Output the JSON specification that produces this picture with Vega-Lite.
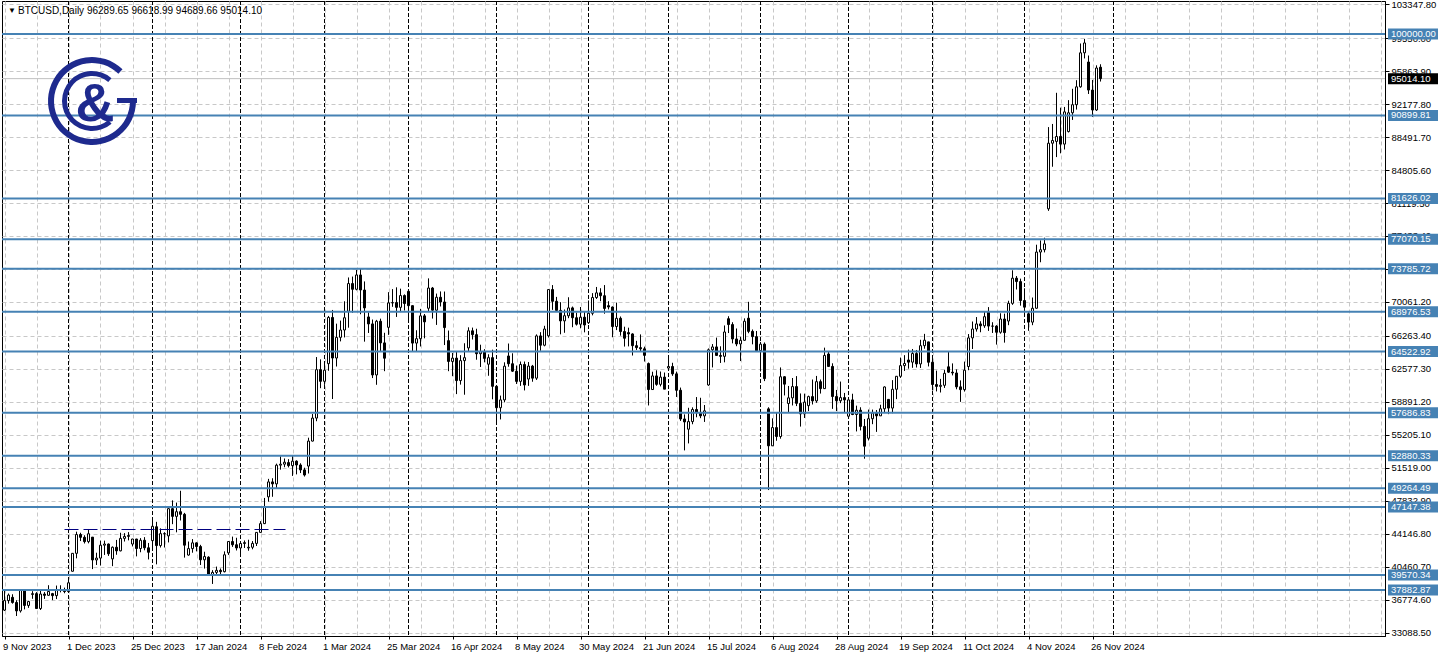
{
"$schema": "https://vega.github.io/schema/vega-lite/v6.json",
"width": 1383, "height": 635, "autosize": "none",
"padding": {"left": 2, "top": 1, "right": 54, "bottom": 22},
"background": "white",
"config": {"view": {"stroke": "black", "strokeWidth": 1}, "font": "Liberation Sans",
 "axis": {"labelOverlap": false, "labelFlush": false, "title": null, "grid": true, "gridColor": "#c8c8c8", "gridDash": [4, 3], "gridWidth": 1, "domainColor": "black", "tickColor": "black", "labelFont": "Liberation Sans", "labelFontSize": 9.5, "labelColor": "black"},
 "axisY": {"labelOverlap": false, "labelFlush": false, "tickSize": 4, "labelPadding": 2, "labelBaseline": "middle"},
 "axisX": {"labelOverlap": false, "labelFlush": false, "tickSize": 3, "labelPadding": 2, "labelAlign": "left", "labelBaseline": "top"}},
"datasets": {
"bars": [
{"d":"2023-11-09","o":35634,"h":37926,"l":35537,"c":36702},
{"d":"2023-11-10","o":36702,"h":37493,"l":36362,"c":37313},
{"d":"2023-11-13","o":37065,"h":37406,"l":36355,"c":36490},
{"d":"2023-11-14","o":36490,"h":36744,"l":34979,"c":35549},
{"d":"2023-11-15","o":35549,"h":37900,"l":35363,"c":37880},
{"d":"2023-11-16","o":37880,"h":37927,"l":35718,"c":36161},
{"d":"2023-11-17","o":36161,"h":36678,"l":35890,"c":36593},
{"d":"2023-11-20","o":37387,"h":37754,"l":36900,"c":37476},
{"d":"2023-11-21","o":37476,"h":37650,"l":35770,"c":35814},
{"d":"2023-11-22","o":35814,"h":37860,"l":35650,"c":37432},
{"d":"2023-11-23","o":37432,"h":37650,"l":36890,"c":37289},
{"d":"2023-11-24","o":37289,"h":38420,"l":37251,"c":37720},
{"d":"2023-11-27","o":37479,"h":37560,"l":36750,"c":37254},
{"d":"2023-11-28","o":37254,"h":38380,"l":36870,"c":37831},
{"d":"2023-11-29","o":37831,"h":38410,"l":37620,"c":37858},
{"d":"2023-11-30","o":37858,"h":38150,"l":37520,"c":37712},
{"d":"2023-12-01","o":37712,"h":38960,"l":37620,"c":38688},
{"d":"2023-12-04","o":39978,"h":42000,"l":39960,"c":41980},
{"d":"2023-12-05","o":41980,"h":44400,"l":41420,"c":44080},
{"d":"2023-12-06","o":44080,"h":44280,"l":43350,"c":43770},
{"d":"2023-12-07","o":43770,"h":44000,"l":43080,"c":43290},
{"d":"2023-12-08","o":43290,"h":44700,"l":43100,"c":44170},
{"d":"2023-12-11","o":43790,"h":43800,"l":40220,"c":41240},
{"d":"2023-12-12","o":41240,"h":42050,"l":40680,"c":41450},
{"d":"2023-12-13","o":41450,"h":43400,"l":40620,"c":42890},
{"d":"2023-12-14","o":42890,"h":43400,"l":41800,"c":43020},
{"d":"2023-12-15","o":43020,"h":43080,"l":41690,"c":41930},
{"d":"2023-12-18","o":41360,"h":42750,"l":40550,"c":42660},
{"d":"2023-12-19","o":42660,"h":43480,"l":41820,"c":42260},
{"d":"2023-12-20","o":42260,"h":44280,"l":42200,"c":43650},
{"d":"2023-12-21","o":43650,"h":44240,"l":43300,"c":43870},
{"d":"2023-12-22","o":43870,"h":44350,"l":43430,"c":43980},
{"d":"2023-12-25","o":43020,"h":43600,"l":42750,"c":43580},
{"d":"2023-12-26","o":43580,"h":43600,"l":41640,"c":42520},
{"d":"2023-12-27","o":42520,"h":43680,"l":42100,"c":43440},
{"d":"2023-12-28","o":43440,"h":43790,"l":42320,"c":42600},
{"d":"2023-12-29","o":42600,"h":43140,"l":41300,"c":42100},
{"d":"2024-01-02","o":43400,"h":45900,"l":42600,"c":45000},
{"d":"2024-01-03","o":44950,"h":45500,"l":40750,"c":42850},
{"d":"2024-01-04","o":42850,"h":44770,"l":42630,"c":44180},
{"d":"2024-01-05","o":44180,"h":44340,"l":42630,"c":44160},
{"d":"2024-01-08","o":43930,"h":47250,"l":43200,"c":46970},
{"d":"2024-01-09","o":46970,"h":47900,"l":45240,"c":46110},
{"d":"2024-01-10","o":46110,"h":47650,"l":44330,"c":46630},
{"d":"2024-01-11","o":46630,"h":48970,"l":45650,"c":46340},
{"d":"2024-01-12","o":46340,"h":46500,"l":41500,"c":42890},
{"d":"2024-01-15","o":41790,"h":43300,"l":41720,"c":42510},
{"d":"2024-01-16","o":42510,"h":43570,"l":42050,"c":43150},
{"d":"2024-01-17","o":43150,"h":43200,"l":42200,"c":42740},
{"d":"2024-01-18","o":42740,"h":42930,"l":40680,"c":41260},
{"d":"2024-01-19","o":41260,"h":42160,"l":40280,"c":41620},
{"d":"2024-01-22","o":41550,"h":41650,"l":39450,"c":39510},
{"d":"2024-01-23","o":39510,"h":40100,"l":38560,"c":39850},
{"d":"2024-01-24","o":39850,"h":40500,"l":39500,"c":40080},
{"d":"2024-01-25","o":40080,"h":40290,"l":39550,"c":39930},
{"d":"2024-01-26","o":39930,"h":42200,"l":39850,"c":41820},
{"d":"2024-01-29","o":42030,"h":43300,"l":41800,"c":43300},
{"d":"2024-01-30","o":43300,"h":43850,"l":42700,"c":42940},
{"d":"2024-01-31","o":42940,"h":43720,"l":42300,"c":42580},
{"d":"2024-02-01","o":42580,"h":43250,"l":41880,"c":43080},
{"d":"2024-02-02","o":43080,"h":43420,"l":42580,"c":43180},
{"d":"2024-02-05","o":42580,"h":43500,"l":42270,"c":42660},
{"d":"2024-02-06","o":42660,"h":43350,"l":42430,"c":43090},
{"d":"2024-02-07","o":43090,"h":44330,"l":42800,"c":44320},
{"d":"2024-02-08","o":44320,"h":45580,"l":44300,"c":45300},
{"d":"2024-02-09","o":45300,"h":48170,"l":45250,"c":47150},
{"d":"2024-02-12","o":48290,"h":50300,"l":47750,"c":49960},
{"d":"2024-02-13","o":49960,"h":50370,"l":48300,"c":49740},
{"d":"2024-02-14","o":49740,"h":52000,"l":49250,"c":51830},
{"d":"2024-02-15","o":51830,"h":52820,"l":51330,"c":51940},
{"d":"2024-02-16","o":51940,"h":52580,"l":51600,"c":52160},
{"d":"2024-02-19","o":52120,"h":52500,"l":51580,"c":51780},
{"d":"2024-02-20","o":51780,"h":52950,"l":50630,"c":52280},
{"d":"2024-02-21","o":52280,"h":52370,"l":50800,"c":51850},
{"d":"2024-02-22","o":51850,"h":52040,"l":50950,"c":51300},
{"d":"2024-02-23","o":51300,"h":51550,"l":50560,"c":50730},
{"d":"2024-02-26","o":51730,"h":54900,"l":50900,"c":54520},
{"d":"2024-02-27","o":54520,"h":57540,"l":54480,"c":57090},
{"d":"2024-02-28","o":57090,"h":63910,"l":56740,"c":62500},
{"d":"2024-02-29","o":62500,"h":63650,"l":60430,"c":61200},
{"d":"2024-03-01","o":61200,"h":63140,"l":60800,"c":62440},
{"d":"2024-03-04","o":63170,"h":68500,"l":62380,"c":68330},
{"d":"2024-03-05","o":68330,"h":69170,"l":59220,"c":63800},
{"d":"2024-03-06","o":63800,"h":67640,"l":62850,"c":66110},
{"d":"2024-03-07","o":66110,"h":67980,"l":65660,"c":66930},
{"d":"2024-03-08","o":66930,"h":70140,"l":66100,"c":68300},
{"d":"2024-03-11","o":69020,"h":72800,"l":67190,"c":72120},
{"d":"2024-03-12","o":72120,"h":72900,"l":68850,"c":71480},
{"d":"2024-03-13","o":71480,"h":73650,"l":71360,"c":73080},
{"d":"2024-03-14","o":73080,"h":73780,"l":68690,"c":71400},
{"d":"2024-03-15","o":71400,"h":72360,"l":65630,"c":69400},
{"d":"2024-03-18","o":68390,"h":68900,"l":66600,"c":67610},
{"d":"2024-03-19","o":67610,"h":68100,"l":61560,"c":61910},
{"d":"2024-03-20","o":61910,"h":68060,"l":60810,"c":67910},
{"d":"2024-03-21","o":67910,"h":68200,"l":64580,"c":65490},
{"d":"2024-03-22","o":65490,"h":66620,"l":62330,"c":63780},
{"d":"2024-03-25","o":67230,"h":71160,"l":66390,"c":69960},
{"d":"2024-03-26","o":69960,"h":71500,"l":69520,"c":69990},
{"d":"2024-03-27","o":69990,"h":71700,"l":68390,"c":69460},
{"d":"2024-03-28","o":69460,"h":71550,"l":68930,"c":70780},
{"d":"2024-03-29","o":70780,"h":70910,"l":69110,"c":69890},
{"d":"2024-04-01","o":71250,"h":71330,"l":68140,"c":69650},
{"d":"2024-04-02","o":69650,"h":69670,"l":64550,"c":65470},
{"d":"2024-04-03","o":65470,"h":66900,"l":64500,"c":65960},
{"d":"2024-04-04","o":65960,"h":69290,"l":65090,"c":68510},
{"d":"2024-04-05","o":68510,"h":68720,"l":66000,"c":67840},
{"d":"2024-04-08","o":69360,"h":72700,"l":69040,"c":71620},
{"d":"2024-04-09","o":71620,"h":71740,"l":68210,"c":69140},
{"d":"2024-04-10","o":69140,"h":71000,"l":67500,"c":70590},
{"d":"2024-04-11","o":70590,"h":71240,"l":69560,"c":70060},
{"d":"2024-04-12","o":70060,"h":71230,"l":65250,"c":67200},
{"d":"2024-04-15","o":65740,"h":66870,"l":62330,"c":63420},
{"d":"2024-04-16","o":63420,"h":64360,"l":61770,"c":63790},
{"d":"2024-04-17","o":63790,"h":64470,"l":59770,"c":61280},
{"d":"2024-04-18","o":61280,"h":64120,"l":60830,"c":63510},
{"d":"2024-04-19","o":63510,"h":65450,"l":59700,"c":63840},
{"d":"2024-04-22","o":64930,"h":67230,"l":64530,"c":66840},
{"d":"2024-04-23","o":66840,"h":67200,"l":65870,"c":66410},
{"d":"2024-04-24","o":66410,"h":67070,"l":63610,"c":64280},
{"d":"2024-04-25","o":64280,"h":65290,"l":62800,"c":64500},
{"d":"2024-04-26","o":64500,"h":64790,"l":63320,"c":63760},
{"d":"2024-04-29","o":63110,"h":64220,"l":61820,"c":63840},
{"d":"2024-04-30","o":63840,"h":64730,"l":59190,"c":60640},
{"d":"2024-05-01","o":60640,"h":60790,"l":56550,"c":58250},
{"d":"2024-05-02","o":58250,"h":59600,"l":56940,"c":59120},
{"d":"2024-05-03","o":59120,"h":63320,"l":58850,"c":62890},
{"d":"2024-05-06","o":64030,"h":65420,"l":62830,"c":63160},
{"d":"2024-05-07","o":63160,"h":64330,"l":62250,"c":62330},
{"d":"2024-05-08","o":62330,"h":62960,"l":60900,"c":61190},
{"d":"2024-05-09","o":61190,"h":63410,"l":60690,"c":63080},
{"d":"2024-05-10","o":63080,"h":63410,"l":60180,"c":60790},
{"d":"2024-05-13","o":61450,"h":63350,"l":60690,"c":62900},
{"d":"2024-05-14","o":62900,"h":63030,"l":61150,"c":61550},
{"d":"2024-05-15","o":61550,"h":66440,"l":61350,"c":66270},
{"d":"2024-05-16","o":66270,"h":66690,"l":64610,"c":65230},
{"d":"2024-05-17","o":65230,"h":67400,"l":65110,"c":67040},
{"d":"2024-05-20","o":66280,"h":71480,"l":66090,"c":71450},
{"d":"2024-05-21","o":71450,"h":71950,"l":69180,"c":70140},
{"d":"2024-05-22","o":70140,"h":70630,"l":68990,"c":69120},
{"d":"2024-05-23","o":69120,"h":70040,"l":66450,"c":67950},
{"d":"2024-05-24","o":67950,"h":69220,"l":66620,"c":68530},
{"d":"2024-05-27","o":68520,"h":70590,"l":68250,"c":69400},
{"d":"2024-05-28","o":69400,"h":69550,"l":67240,"c":68300},
{"d":"2024-05-29","o":68300,"h":68880,"l":67430,"c":67580},
{"d":"2024-05-30","o":67580,"h":69500,"l":67120,"c":68360},
{"d":"2024-05-31","o":68360,"h":69010,"l":66670,"c":67490},
{"d":"2024-06-03","o":67750,"h":70230,"l":67610,"c":68800},
{"d":"2024-06-04","o":68800,"h":71050,"l":68570,"c":70560},
{"d":"2024-06-05","o":70560,"h":71740,"l":70400,"c":71080},
{"d":"2024-06-06","o":71080,"h":71600,"l":70150,"c":70760},
{"d":"2024-06-07","o":70760,"h":71950,"l":68750,"c":69340},
{"d":"2024-06-10","o":69650,"h":70150,"l":69230,"c":69500},
{"d":"2024-06-11","o":69500,"h":69560,"l":66120,"c":67320},
{"d":"2024-06-12","o":67320,"h":69990,"l":66920,"c":68240},
{"d":"2024-06-13","o":68240,"h":68440,"l":66300,"c":66760},
{"d":"2024-06-14","o":66760,"h":67300,"l":65080,"c":66010},
{"d":"2024-06-17","o":66640,"h":67190,"l":65100,"c":66490},
{"d":"2024-06-18","o":66490,"h":66560,"l":64080,"c":65180},
{"d":"2024-06-19","o":65180,"h":65720,"l":64700,"c":64960},
{"d":"2024-06-20","o":64960,"h":66440,"l":64550,"c":64830},
{"d":"2024-06-21","o":64830,"h":65070,"l":63410,"c":64100},
{"d":"2024-06-24","o":63180,"h":63300,"l":58500,"c":60280},
{"d":"2024-06-25","o":60280,"h":62270,"l":60240,"c":61800},
{"d":"2024-06-26","o":61800,"h":62430,"l":60700,"c":60860},
{"d":"2024-06-27","o":60860,"h":62290,"l":60630,"c":61670},
{"d":"2024-06-28","o":61670,"h":62180,"l":60370,"c":60320},
{"d":"2024-07-01","o":62680,"h":63780,"l":62510,"c":62850},
{"d":"2024-07-02","o":62850,"h":63270,"l":61810,"c":62030},
{"d":"2024-07-03","o":62030,"h":62280,"l":59450,"c":60200},
{"d":"2024-07-04","o":60200,"h":60500,"l":56770,"c":56990},
{"d":"2024-07-05","o":56990,"h":57500,"l":53480,"c":56660},
{"d":"2024-07-08","o":55850,"h":58240,"l":54260,"c":56700},
{"d":"2024-07-09","o":56700,"h":58290,"l":56400,"c":58050},
{"d":"2024-07-10","o":58050,"h":59440,"l":57180,"c":57720},
{"d":"2024-07-11","o":57720,"h":59360,"l":57080,"c":57340},
{"d":"2024-07-12","o":57340,"h":58550,"l":56660,"c":57900},
{"d":"2024-07-15","o":60790,"h":64870,"l":60700,"c":64720},
{"d":"2024-07-16","o":64720,"h":65360,"l":62750,"c":65040},
{"d":"2024-07-17","o":65040,"h":66080,"l":64040,"c":64090},
{"d":"2024-07-18","o":64090,"h":65110,"l":63250,"c":63990},
{"d":"2024-07-19","o":63990,"h":67440,"l":63320,"c":66710},
{"d":"2024-07-22","o":68190,"h":68470,"l":66590,"c":67540},
{"d":"2024-07-23","o":67540,"h":67800,"l":65440,"c":65930},
{"d":"2024-07-24","o":65930,"h":67100,"l":65120,"c":65370},
{"d":"2024-07-25","o":65370,"h":66170,"l":63460,"c":65780},
{"d":"2024-07-26","o":65780,"h":68230,"l":65750,"c":67910},
{"d":"2024-07-29","o":68250,"h":70080,"l":66570,"c":66780},
{"d":"2024-07-30","o":66780,"h":66990,"l":65330,"c":66190},
{"d":"2024-07-31","o":66190,"h":66820,"l":64530,"c":64620},
{"d":"2024-08-01","o":64620,"h":65600,"l":62300,"c":65350},
{"d":"2024-08-02","o":65350,"h":65540,"l":61220,"c":61500},
{"d":"2024-08-05","o":58120,"h":58300,"l":49050,"c":53990},
{"d":"2024-08-06","o":53990,"h":57060,"l":53970,"c":56030},
{"d":"2024-08-07","o":56030,"h":57720,"l":54560,"c":55030},
{"d":"2024-08-08","o":55030,"h":62750,"l":54790,"c":61710},
{"d":"2024-08-09","o":61710,"h":61760,"l":59620,"c":60880},
{"d":"2024-08-12","o":58720,"h":60680,"l":57690,"c":59350},
{"d":"2024-08-13","o":59350,"h":61570,"l":58500,"c":60610},
{"d":"2024-08-14","o":60610,"h":61780,"l":58430,"c":58740},
{"d":"2024-08-15","o":58740,"h":59840,"l":56140,"c":57560},
{"d":"2024-08-16","o":57560,"h":59820,"l":57100,"c":58870},
{"d":"2024-08-19","o":58480,"h":59600,"l":57870,"c":59490},
{"d":"2024-08-20","o":59490,"h":61400,"l":58610,"c":59010},
{"d":"2024-08-21","o":59010,"h":61800,"l":58800,"c":61160},
{"d":"2024-08-22","o":61160,"h":61400,"l":59830,"c":60380},
{"d":"2024-08-23","o":60380,"h":64960,"l":60360,"c":64090},
{"d":"2024-08-26","o":64250,"h":64480,"l":62820,"c":62860},
{"d":"2024-08-27","o":62860,"h":63210,"l":58120,"c":59500},
{"d":"2024-08-28","o":59500,"h":60230,"l":57870,"c":59030},
{"d":"2024-08-29","o":59030,"h":61170,"l":58760,"c":59380},
{"d":"2024-08-30","o":59380,"h":59900,"l":57720,"c":59120},
{"d":"2024-09-02","o":57300,"h":59400,"l":57130,"c":59120},
{"d":"2024-09-03","o":59120,"h":59810,"l":57420,"c":57490},
{"d":"2024-09-04","o":57490,"h":58480,"l":55600,"c":57970},
{"d":"2024-09-05","o":57970,"h":58300,"l":55710,"c":56160},
{"d":"2024-09-06","o":56160,"h":56990,"l":52550,"c":53950},
{"d":"2024-09-09","o":54840,"h":58040,"l":54590,"c":57020},
{"d":"2024-09-10","o":57020,"h":58040,"l":56410,"c":57650},
{"d":"2024-09-11","o":57650,"h":57990,"l":55550,"c":57340},
{"d":"2024-09-12","o":57340,"h":58580,"l":57330,"c":58130},
{"d":"2024-09-13","o":58130,"h":60630,"l":57700,"c":60570},
{"d":"2024-09-16","o":59180,"h":59210,"l":57530,"c":58210},
{"d":"2024-09-17","o":58210,"h":61330,"l":57630,"c":60310},
{"d":"2024-09-18","o":60310,"h":61790,"l":59210,"c":61760},
{"d":"2024-09-19","o":61760,"h":63850,"l":61580,"c":62950},
{"d":"2024-09-20","o":62950,"h":64120,"l":62360,"c":63190},
{"d":"2024-09-23","o":63580,"h":64740,"l":62610,"c":63340},
{"d":"2024-09-24","o":63340,"h":64810,"l":62710,"c":64300},
{"d":"2024-09-25","o":64300,"h":64700,"l":62740,"c":63140},
{"d":"2024-09-26","o":63140,"h":65840,"l":62690,"c":65180},
{"d":"2024-09-27","o":65180,"h":66500,"l":64840,"c":65790},
{"d":"2024-09-30","o":65600,"h":65620,"l":62860,"c":63330},
{"d":"2024-10-01","o":63330,"h":64130,"l":60180,"c":60840},
{"d":"2024-10-02","o":60840,"h":62390,"l":60070,"c":60630},
{"d":"2024-10-03","o":60630,"h":61470,"l":59950,"c":60750},
{"d":"2024-10-04","o":60750,"h":62480,"l":60460,"c":62090},
{"d":"2024-10-07","o":62820,"h":64480,"l":62140,"c":62220},
{"d":"2024-10-08","o":62220,"h":63200,"l":61860,"c":62130},
{"d":"2024-10-09","o":62130,"h":62530,"l":60310,"c":60580},
{"d":"2024-10-10","o":60580,"h":61300,"l":58900,"c":60270},
{"d":"2024-10-11","o":60270,"h":63400,"l":60050,"c":62440},
{"d":"2024-10-14","o":62850,"h":66480,"l":62440,"c":66050},
{"d":"2024-10-15","o":66050,"h":67880,"l":64810,"c":67040},
{"d":"2024-10-16","o":67040,"h":68380,"l":66750,"c":67610},
{"d":"2024-10-17","o":67610,"h":67910,"l":66680,"c":67400},
{"d":"2024-10-18","o":67400,"h":68970,"l":67170,"c":68420},
{"d":"2024-10-21","o":69000,"h":69490,"l":66830,"c":67370},
{"d":"2024-10-22","o":67370,"h":67800,"l":66600,"c":67360},
{"d":"2024-10-23","o":67360,"h":67470,"l":65300,"c":66680},
{"d":"2024-10-24","o":66680,"h":68800,"l":66520,"c":68160},
{"d":"2024-10-25","o":68160,"h":68760,"l":65520,"c":66640},
{"d":"2024-10-28","o":67930,"h":70200,"l":67470,"c":69910},
{"d":"2024-10-29","o":69910,"h":73600,"l":69740,"c":72720},
{"d":"2024-10-30","o":72720,"h":72960,"l":71460,"c":72340},
{"d":"2024-10-31","o":72340,"h":72670,"l":69650,"c":70220},
{"d":"2024-11-01","o":70220,"h":71590,"l":68800,"c":69480},
{"d":"2024-11-04","o":68740,"h":69000,"l":66840,"c":67810},
{"d":"2024-11-05","o":67810,"h":70560,"l":67470,"c":69360},
{"d":"2024-11-06","o":69360,"h":76460,"l":69320,"c":75640},
{"d":"2024-11-07","o":75640,"h":76940,"l":74500,"c":75900},
{"d":"2024-11-08","o":75900,"h":77240,"l":75600,"c":76550},
{"d":"2024-11-11","o":80470,"h":89600,"l":80240,"c":87800},
{"d":"2024-11-12","o":87800,"h":89950,"l":85170,"c":88100},
{"d":"2024-11-13","o":88000,"h":93430,"l":86250,"c":88550},
{"d":"2024-11-14","o":88550,"h":91770,"l":86670,"c":87700},
{"d":"2024-11-15","o":87700,"h":91850,"l":87100,"c":91300},
{"d":"2024-11-18","o":89100,"h":92610,"l":89000,"c":91200},
{"d":"2024-11-19","o":91200,"h":93880,"l":90400,"c":92100},
{"d":"2024-11-20","o":92100,"h":94840,"l":91560,"c":94100},
{"d":"2024-11-21","o":94100,"h":98940,"l":94000,"c":97900},
{"d":"2024-11-22","o":97900,"h":99450,"l":97270,"c":99000},
{"d":"2024-11-25","o":96870,"h":97600,"l":93300,"c":93740},
{"d":"2024-11-26","o":93740,"h":94870,"l":90730,"c":91510},
{"d":"2024-11-27","o":91510,"h":96500,"l":91400,"c":96200},
{"d":"2024-11-28","o":96289.65,"h":96618.99,"l":94689.66,"c":95014.10}
],
"levels": [{"v":100000.00},{"v":90899.81},{"v":81626.02},{"v":77070.15},{"v":73785.72},{"v":68976.53},{"v":64522.92},{"v":57686.83},{"v":52880.33},{"v":49264.49},{"v":47147.38},{"v":39570.34},{"v":37882.87}]
},
"layer": [
{
"data": {"name": "bars"},
"transform": [{"window": [{"op": "row_number", "as": "i"}], "sort": [{"field": "d", "order": "ascending"}]}],
"mark": {"type": "rule", "opacity": 0},
"encoding": {
 "x": {"field": "i", "type": "quantitative", "scale": {"domain": [0.375, 346.125], "nice": false, "zero": false, "padding": 0},
  "axis": {"orient": "bottom", "title": null, "values": [1,9,17,25,33,41,49,57,65,73,81,89,97,105,113,121,129,137,145,153,161,169,177,185,193,201,209,217,225,233,241,249,257,265,273,281,289,297,305,313,321,329,337,345],
   "tickCount": 200, "grid": true, "domain": true,
   "tickOpacity": {"condition": {"test": "(datum.value - 1) % 16 == 0 && datum.value < 280", "value": 1}, "value": 0},
   "labelExpr": "((datum.value - 1) % 16 == 0) ? (['9 Nov 2023','1 Dec 2023','25 Dec 2023','17 Jan 2024','8 Feb 2024','1 Mar 2024','25 Mar 2024','16 Apr 2024','8 May 2024','30 May 2024','21 Jun 2024','15 Jul 2024','6 Aug 2024','28 Aug 2024','19 Sep 2024','11 Oct 2024','4 Nov 2024','26 Nov 2024'][(datum.value - 1) / 16] || '') : ''",
   "labelAlign": "left", "labelBaseline": "top", "labelOffset": -2, "labelOverlap": false, "labelFlush": false}},
 "y": {"field": "l", "type": "quantitative", "scale": {"domain": [32745, 103687], "nice": false, "zero": false, "padding": 0},
  "axis": {"orient": "right", "title": null, "values": [33088.5, 36774.6, 40460.7, 44146.8, 47832.9, 51519.0, 55205.1, 58891.2, 62577.3, 66263.4, 70061.2, 73747.3, 77433.4, 81119.5, 84805.6, 88491.7, 92177.8, 95863.9, 99550.0, 103347.8],
   "tickCount": 200, "format": ".2f", "grid": true, "domain": true, "labelOverlap": false, "labelFlush": false, "labelBaseline": "middle"}},
 "y2": {"field": "h"}
}
},
{
"data": {"name": "bars"},
"transform": [{"window": [{"op": "row_number", "as": "i"}, {"op": "lag", "field": "d", "as": "prev"}], "sort": [{"field": "d", "order": "ascending"}]},
 {"filter": "datum.prev != null && substring(datum.d, 0, 7) != substring(datum.prev, 0, 7)"}],
"mark": {"type": "rule", "color": "black", "strokeDash": [4, 2], "strokeWidth": 1},
"encoding": {"x": {"field": "i", "type": "quantitative", "scale": {"domain": [0.375, 346.125], "nice": false, "zero": false, "padding": 0}}}
},
{
"data": {"values": [{"sep": "2024-12-02"}]},
"mark": {"type": "rule", "color": "black", "strokeDash": [4, 2], "strokeWidth": 1},
"encoding": {"x": {"datum": 278.25, "type": "quantitative", "scale": {"domain": [0.375, 346.125], "nice": false, "zero": false, "padding": 0}}}
},
{
"data": {"values": [{"v": 95014.10}]},
"mark": {"type": "rule", "color": "#c0c0c0", "strokeWidth": 1},
"encoding": {"y": {"field": "v", "type": "quantitative", "scale": {"domain": [32745, 103687], "nice": false, "zero": false, "padding": 0}}}
},
{
"data": {"name": "bars"},
"transform": [{"window": [{"op": "row_number", "as": "i"}], "sort": [{"field": "d", "order": "ascending"}]}],
"mark": {"type": "rule", "color": "black", "strokeWidth": 1},
"encoding": {
 "x": {"field": "i", "type": "quantitative", "scale": {"domain": [0.375, 346.125], "nice": false, "zero": false, "padding": 0}},
 "y": {"field": "l", "type": "quantitative", "scale": {"domain": [32745, 103687], "nice": false, "zero": false, "padding": 0}},
 "y2": {"field": "h"}
}
},
{
"data": {"name": "bars"},
"transform": [{"window": [{"op": "row_number", "as": "i"}], "sort": [{"field": "d", "order": "ascending"}]}],
"mark": {"type": "bar", "width": 2, "stroke": "black", "strokeWidth": 1},
"encoding": {
 "x": {"field": "i", "type": "quantitative", "scale": {"domain": [0.375, 346.125], "nice": false, "zero": false, "padding": 0}},
 "y": {"field": "o", "type": "quantitative", "scale": {"domain": [32745, 103687], "nice": false, "zero": false, "padding": 0}},
 "y2": {"field": "c"},
 "fill": {"condition": {"test": "datum.c >= datum.o", "value": "white"}, "value": "black"}
}
},
{
"data": {"values": [{"line": "trend"}]},
"mark": {"type": "rule", "color": "#000080", "strokeDash": [14, 5], "strokeWidth": 1},
"encoding": {
 "x": {"datum": 16, "type": "quantitative", "scale": {"domain": [0.375, 346.125], "nice": false, "zero": false, "padding": 0}},
 "x2": {"datum": 71.25},
 "y": {"datum": 44643, "type": "quantitative", "scale": {"domain": [32745, 103687], "nice": false, "zero": false, "padding": 0}}
}
},
{
"data": {"name": "levels"},
"mark": {"type": "rule", "color": "#4682b4", "strokeWidth": 2},
"encoding": {"y": {"field": "v", "type": "quantitative", "scale": {"domain": [32745, 103687], "nice": false, "zero": false, "padding": 0}}}
},
{
"data": {"values": [{"part": "outer"}]},
"mark": {"type": "arc", "radius": 44, "radius2": 38, "theta": 1.5708, "theta2": 7.05, "color": "#1e2a8e"},
"encoding": {
 "x": {"datum": 22.875, "type": "quantitative", "scale": {"domain": [0.375, 346.125], "nice": false, "zero": false, "padding": 0}},
 "y": {"datum": 92515, "type": "quantitative", "scale": {"domain": [32745, 103687], "nice": false, "zero": false, "padding": 0}}
}
},
{
"data": {"values": [{"part": "inner"}]},
"mark": {"type": "arc", "radius": 30, "radius2": 25, "theta": 2.43, "theta2": 6.99, "color": "#1e2a8e"},
"encoding": {
 "x": {"datum": 22.875, "type": "quantitative", "scale": {"domain": [0.375, 346.125], "nice": false, "zero": false, "padding": 0}},
 "y": {"datum": 92515, "type": "quantitative", "scale": {"domain": [32745, 103687], "nice": false, "zero": false, "padding": 0}}
}
},
{
"data": {"values": [{"part": "bar"}]},
"mark": {"type": "rect", "color": "#1e2a8e"},
"encoding": {
 "x": {"datum": 29.125, "type": "quantitative", "scale": {"domain": [0.375, 346.125], "nice": false, "zero": false, "padding": 0}},
 "x2": {"datum": 34.125},
 "y": {"datum": 92850, "type": "quantitative", "scale": {"domain": [32745, 103687], "nice": false, "zero": false, "padding": 0}},
 "y2": {"datum": 92291}
}
},
{
"data": {"values": [{"t": "&"}]},
"mark": {"type": "text", "font": "Liberation Sans", "fontWeight": "bold", "fontSize": 54, "color": "#1e2a8e", "align": "center", "baseline": "alphabetic"},
"encoding": {
 "x": {"datum": 23.625, "type": "quantitative", "scale": {"domain": [0.375, 346.125], "nice": false, "zero": false, "padding": 0}},
 "y": {"datum": 90280, "type": "quantitative", "scale": {"domain": [32745, 103687], "nice": false, "zero": false, "padding": 0}},
 "text": {"field": "t"}
}
},
{
"data": {"values": [{"t": "▼"}]},
"mark": {"type": "text", "fontSize": 8, "color": "black", "align": "left", "baseline": "middle"},
"encoding": {
 "x": {"datum": 1.875, "type": "quantitative", "scale": {"domain": [0.375, 346.125], "nice": false, "zero": false, "padding": 0}},
 "y": {"datum": 102570, "type": "quantitative", "scale": {"domain": [32745, 103687], "nice": false, "zero": false, "padding": 0}},
 "text": {"field": "t"}
}
},
{
"data": {"values": [{"t": "BTCUSD,Daily  96289.65 96618.99 94689.66 95014.10"}]},
"mark": {"type": "text", "fontSize": 10, "color": "black", "align": "left", "baseline": "middle"},
"encoding": {
 "x": {"datum": 4.375, "type": "quantitative", "scale": {"domain": [0.375, 346.125], "nice": false, "zero": false, "padding": 0}},
 "y": {"datum": 102570, "type": "quantitative", "scale": {"domain": [32745, 103687], "nice": false, "zero": false, "padding": 0}},
 "text": {"field": "t"}
}
},
{
"data": {"name": "levels"},
"mark": {"type": "point", "shape": "M-1,-0.22L1,-0.22L1,0.22L-1,0.22Z", "size": 2500, "filled": true, "opacity": 1, "color": "#4682b4", "strokeWidth": 0},
"encoding": {
 "x": {"datum": 353.125, "type": "quantitative", "scale": {"domain": [0.375, 346.125], "nice": false, "zero": false, "padding": 0}},
 "y": {"field": "v", "type": "quantitative", "scale": {"domain": [32745, 103687], "nice": false, "zero": false, "padding": 0}}
}
},
{
"data": {"name": "levels"},
"mark": {"type": "text", "fontSize": 9.5, "color": "white", "align": "left", "baseline": "middle"},
"encoding": {
 "x": {"datum": 347.625, "type": "quantitative", "scale": {"domain": [0.375, 346.125], "nice": false, "zero": false, "padding": 0}},
 "y": {"field": "v", "type": "quantitative", "scale": {"domain": [32745, 103687], "nice": false, "zero": false, "padding": 0}},
 "text": {"field": "v", "type": "quantitative", "format": ".2f"}
}
},
{
"data": {"values": [{"v": 95014.10}]},
"mark": {"type": "point", "shape": "M-1,-0.22L1,-0.22L1,0.22L-1,0.22Z", "size": 2500, "filled": true, "opacity": 1, "color": "black", "strokeWidth": 0},
"encoding": {
 "x": {"datum": 353.125, "type": "quantitative", "scale": {"domain": [0.375, 346.125], "nice": false, "zero": false, "padding": 0}},
 "y": {"field": "v", "type": "quantitative", "scale": {"domain": [32745, 103687], "nice": false, "zero": false, "padding": 0}}
}
},
{
"data": {"values": [{"v": 95014.10}]},
"mark": {"type": "text", "fontSize": 9.5, "color": "white", "align": "left", "baseline": "middle"},
"encoding": {
 "x": {"datum": 347.625, "type": "quantitative", "scale": {"domain": [0.375, 346.125], "nice": false, "zero": false, "padding": 0}},
 "y": {"field": "v", "type": "quantitative", "scale": {"domain": [32745, 103687], "nice": false, "zero": false, "padding": 0}},
 "text": {"field": "v", "type": "quantitative", "format": ".2f"}
}
}
]
}
